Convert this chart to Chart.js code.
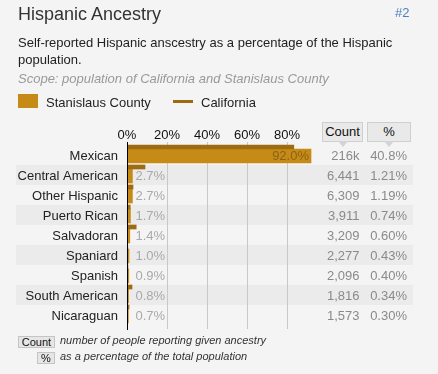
<!DOCTYPE html>
<html>
<head>
<meta charset="utf-8">
<script src="https://cdn.jsdelivr.net/npm/chart.js@4.4.1/dist/chart.umd.min.js"></script>
<style>
  body { margin: 0; background: #f4f4f4; font-family: "Liberation Sans", Arial, sans-serif; }
  #wrap { position: relative; width: 438px; height: 374px; overflow: hidden; }
  #chart { position: absolute; left: 0; top: 0; }
  .abs { position: absolute; white-space: nowrap; line-height: 1; }
  #title { left: 18px; top: 5px; font-size: 18px; color: #333; }
  #rank { left: 395px; top: 6px; font-size: 13px; color: #4a80c4; }
  #desc { left: 18px; font-size: 13px; color: #222; white-space: normal; width: 392px; line-height: 17px; top: 34px; }
  #scope { left: 18px; top: 72px; font-size: 13px; color: #999; font-style: italic; }
  .swatch { position: absolute; left: 18px; top: 94px; width: 20px; height: 14px; background: #c68b17; }
  .line { position: absolute; left: 173px; top: 100px; width: 20px; height: 3px; background: #9e6b12; }
  #lg1 { left: 46px; top: 96px; font-size: 13px; color: #222; }
  #lg2 { left: 201px; top: 96px; font-size: 13px; color: #222; }
  .hbtn { position: absolute; top: 122px; height: 18px; background: #e9e9e9; border: 1px solid #cfcfcf;
          font-size: 13px; color: #111; text-align: center; line-height: 18px; }
  .hbtn:after { content: ""; position: absolute; left: 50%; bottom: -6px; margin-left: -5px;
          border-left: 5px solid transparent; border-right: 5px solid transparent; border-top: 6px solid #d4d4d4; }
  .fbtn { position: absolute; left: 18px; height: 10px; background: #e6e6e6; border: 1px solid #c4c4c4;
          font-size: 11px; color: #111; text-align: center; line-height: 10px; }
  .fnote { left: 60px; font-size: 11px; color: #333; font-style: italic; }
</style>
</head>
<body>
<div id="wrap">
  <canvas id="chart" width="438" height="374"></canvas>
  <div id="title" class="abs">Hispanic Ancestry</div>
  <div id="rank" class="abs">#2</div>
  <div id="desc" class="abs">Self-reported Hispanic anscestry as a percentage of the Hispanic population.</div>
  <div id="scope" class="abs">Scope: population of California and Stanislaus County</div>
  <div class="swatch"></div>
  <div id="lg1" class="abs">Stanislaus County</div>
  <div class="line"></div>
  <div id="lg2" class="abs">California</div>
  <div class="hbtn" style="left:322px; width:39px;">Count</div>
  <div class="hbtn" style="left:367px; width:42px;">%</div>
  <div class="fbtn" style="top:336px; width:35px;">Count</div>
  <div class="abs fnote" style="top:335px;">number of people reporting given ancestry</div>
  <div class="fbtn" style="left:37px; top:352px; width:16px;">%</div>
  <div class="abs fnote" style="top:351px;">as a percentage of the total population</div>
</div>
<script>
const categories = ["Mexican", "Central American", "Other Hispanic", "Puerto Rican", "Salvadoran", "Spaniard", "Spanish", "South American", "Nicaraguan"];
const stanislaus = [92.0, 2.7, 2.7, 1.7, 1.4, 1.0, 0.9, 0.8, 0.7];
const california = [83.4, 9.0, 3.0, 1.6, 4.6, 0.4, 0.5, 2.5, 1.0];
const counts = ["216k", "6,441", "6,309", "3,911", "3,209", "2,277", "2,096", "1,816", "1,573"];
const shares = ["40.8%", "1.21%", "1.19%", "0.74%", "0.60%", "0.43%", "0.40%", "0.34%", "0.30%"];
const xTicks = [0, 20, 40, 60, 80];

const FONT = "'Liberation Sans', Arial, sans-serif";

// stripes behind every other row, labels and the two table columns
const rowsPlugin = {
  id: 'rows',
  beforeDraw(chart) {
    const ctx = chart.ctx;
    const yScale = chart.scales.y;
    ctx.save();
    ctx.fillStyle = '#f4f4f4';
    ctx.fillRect(0, 0, chart.width, chart.height);
    ctx.fillStyle = '#ebebeb';
    for (let i = 1; i < categories.length; i += 2) {
      const p = yScale.getPixelForValue(i);
      ctx.fillRect(16, p - 4, 397, 20);
    }
    ctx.restore();
  },
  afterDatasetsDraw(chart) {
    const ctx = chart.ctx;
    const xScale = chart.scales.x;
    const yScale = chart.scales.y;
    const x0 = xScale.getPixelForValue(0);
    ctx.save();
    ctx.font = '13px ' + FONT;
    ctx.textBaseline = 'middle';
    for (let i = 0; i < categories.length; i++) {
      const y = yScale.getPixelForValue(i) + 7;
      const v = stanislaus[i];
      const xEnd = xScale.getPixelForValue(v);
      if (xEnd - x0 > 60) {
        ctx.textAlign = 'right';
        ctx.fillStyle = '#8a6412';
        ctx.fillText(v.toFixed(1) + '%', xEnd - 2, y);
      } else {
        ctx.textAlign = 'left';
        ctx.fillStyle = '#a9a9a9';
        ctx.fillText(v.toFixed(1) + '%', Math.max(x0 + 8.5, xEnd + 3), y);
      }
      ctx.textAlign = 'right';
      ctx.fillStyle = '#8a8a8a';
      ctx.fillText(counts[i], 359.5, y);
      ctx.fillText(shares[i], 407, y);
    }
    ctx.restore();
  }
};

new Chart(document.getElementById('chart'), {
  type: 'bar',
  data: {
    datasets: [{
      label: 'California',
      data: california.map((v, i) => ({x: v, y: i})),
      backgroundColor: '#9e6b12',
      barThickness: 4
    }, {
      label: 'Stanislaus County',
      data: stanislaus.map((v, i) => ({x: v, y: i})),
      backgroundColor: '#c68b17',
      barThickness: 14
    }]
  },
  options: {
    indexAxis: 'y',
    responsive: false,
    animation: false,
    layout: { padding: { left: 0, top: 0, right: 111, bottom: 45 } },
    plugins: { legend: { display: false }, tooltip: { enabled: false } },
    scales: {
      x: {
        position: 'top',
        min: 0,
        max: 100,
        afterBuildTicks: s => { s.ticks = xTicks.map(v => ({value: v})); },
        afterFit: s => { s.height = 142; },
        grid: { color: '#c8c8c8', drawTicks: false },
        border: { display: false },
        ticks: { padding: 0, color: '#111', font: { size: 13, family: FONT, lineHeight: 1 }, callback: v => v + '%' }
      },
      y: {
        type: 'linear',
        reverse: true,
        offset: false,
        min: -0.35,
        max: 9.0,
        afterBuildTicks: s => { s.ticks = categories.map((c, i) => ({value: i})); },
        afterFit: s => { s.width = 127; },
        grid: { display: false, drawTicks: false, offset: false },
        border: { display: true, color: '#000', width: 1, z: 1 },
        ticks: { padding: 9, labelOffset: 7, color: '#222', font: { size: 13, family: FONT },
                 callback: v => categories[v] }
      }
    }
  },
  plugins: [rowsPlugin]
});
</script>
</body>
</html>
